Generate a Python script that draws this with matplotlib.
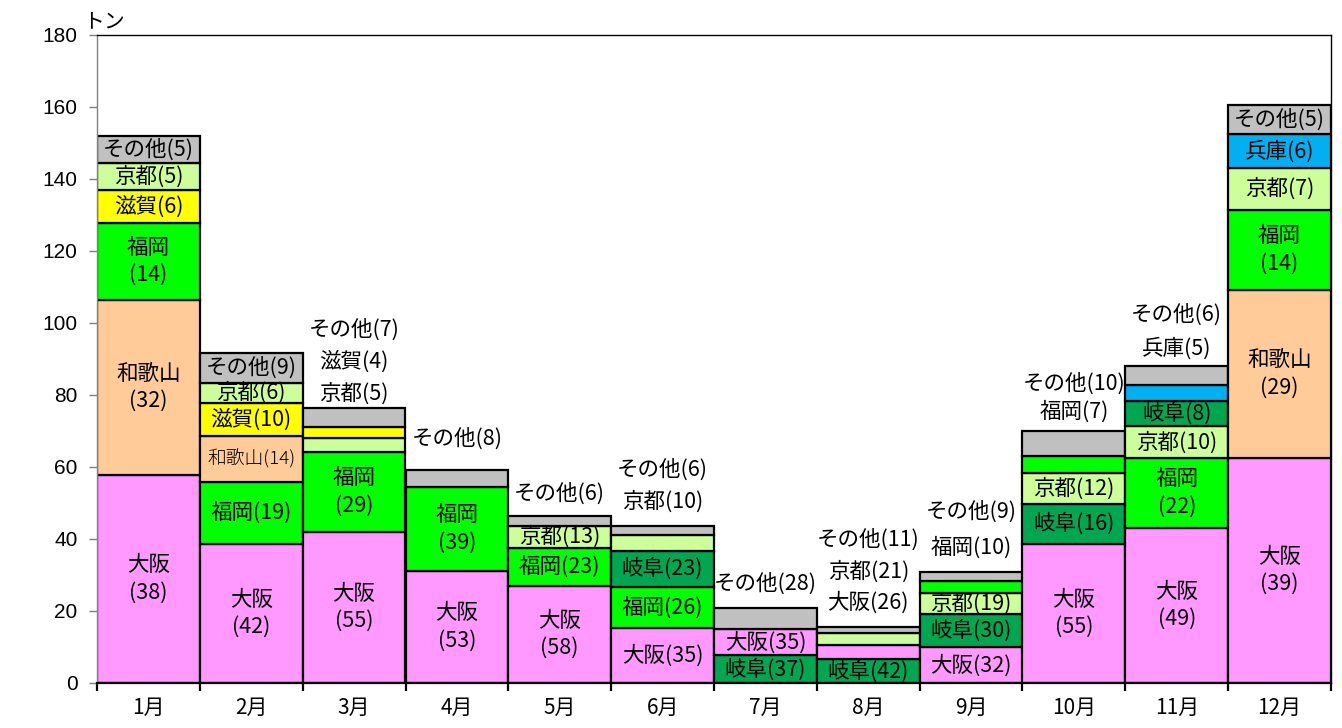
import matplotlib
matplotlib.use("Agg")
import matplotlib.pyplot as plt
import numpy as np

plt.rcParams['font.family'] = ['Noto Sans CJK JP', 'DejaVu Sans']

months = ['1月', '2月', '3月', '4月', '5月', '6月', '7月', '8月', '9月', '10月', '11月', '12月']

# tons per month by prefecture
osaka    = [57.8, 38.5, 42.0, 31.2, 27.0, 15.3, 7.3, 4.05, 9.9, 38.6, 43.1, 62.6]
wakayama = [48.6, 12.8, 0, 0, 0, 0, 0, 0, 0, 0, 0, 46.6]
fukuoka  = [21.4, 17.4, 22.2, 23.2, 10.6, 11.45, 0, 0, 3.1, 4.8, 19.4, 22.3]
shiga    = [9.1, 9.2, 3.1, 0, 0, 0, 0, 0, 0, 0, 0, 0]
kyoto    = [7.5, 5.5, 3.8, 0, 6.0, 4.25, 0, 3.28, 5.9, 8.4, 8.8, 11.6]
gifu     = [0, 0, 0, 0, 0, 10.0, 7.7, 6.55, 9.3, 11.2, 7.0, 0]
hyogo    = [0, 0, 0, 0, 0, 0, 0, 0, 0, 0, 4.4, 9.3]
sonota   = [7.5, 8.3, 5.4, 4.8, 2.8, 2.6, 5.9, 1.72, 2.7, 7.1, 5.3, 8.2]

series = {'大阪': osaka, '和歌山': wakayama, '福岡': fukuoka, '滋賀': shiga,
          '京都': kyoto, '岐阜': gifu, '兵庫': hyogo, 'その他': sonota}
colors = {'大阪': '#FF99FF', '和歌山': '#FFCC99', '福岡': '#00FF00', '滋賀': '#FFFF00',
          '京都': '#CCFF99', '岐阜': '#00A650', '兵庫': '#00B0F0', 'その他': '#C0C0C0'}

# stacking order (bottom -> top) and label placement per month
layout = [
    [('大阪', 'in2'), ('和歌山', 'in2'), ('福岡', 'in2'), ('滋賀', 'in'), ('京都', 'in'), ('その他', 'in')],
    [('大阪', 'in2'), ('福岡', 'in'), ('和歌山', 'insmall'), ('滋賀', 'in'), ('京都', 'in'), ('その他', 'in')],
    [('大阪', 'in2'), ('福岡', 'in2'), ('京都', 'out'), ('滋賀', 'out'), ('その他', 'out')],
    [('大阪', 'in2'), ('福岡', 'in2'), ('その他', 'out')],
    [('大阪', 'in2'), ('福岡', 'in'), ('京都', 'in'), ('その他', 'out')],
    [('大阪', 'in'), ('福岡', 'in'), ('岐阜', 'in'), ('京都', 'out'), ('その他', 'out')],
    [('岐阜', 'in'), ('大阪', 'in'), ('その他', 'out')],
    [('岐阜', 'in'), ('大阪', 'out'), ('京都', 'out'), ('その他', 'out')],
    [('大阪', 'in'), ('岐阜', 'in'), ('京都', 'in'), ('福岡', 'out'), ('その他', 'out')],
    [('大阪', 'in2'), ('岐阜', 'in'), ('京都', 'in'), ('福岡', 'out'), ('その他', 'out')],
    [('大阪', 'in2'), ('福岡', 'in2'), ('京都', 'in'), ('岐阜', 'in'), ('兵庫', 'out'), ('その他', 'out')],
    [('大阪', 'in2'), ('和歌山', 'in2'), ('福岡', 'in2'), ('京都', 'in'), ('兵庫', 'in'), ('その他', 'in')],
]
# pixel offsets of outside labels above bar top (first line, line step)
out_first = [0, 0, 14, 31, 22, 24, 24, 24, 24, 19, 18, 0]
out_step  = [32, 32, 32, 32, 32, 32, 32, 31.5, 36, 28, 34, 32]

W, H = 1342, 728
fig = plt.figure(figsize=(W / 100, H / 100), dpi=100)
ax = fig.add_axes([97 / W, (H - 683) / H, 1234 / W, 648 / H])

FS = 15.5
x = np.arange(len(months))
for i in range(len(months)):
    vals = [series[name][i] for name, _ in layout[i]]
    total = sum(vals)
    bottom = 0.0
    outs = []
    for name, mode in layout[i]:
        v = series[name][i]
        ax.bar(x[i], v, width=1.0, bottom=bottom, color=colors[name],
               edgecolor='black', linewidth=1.6, zorder=2)
        pct = int(round(v / total * 100))
        mid = bottom + v / 2
        if mode == 'in':
            ax.text(x[i], mid, f'{name}({pct})', ha='center', va='center', fontsize=FS, zorder=3)
        elif mode == 'insmall':
            ax.text(x[i], mid, f'{name}({pct})', ha='center', va='center', fontsize=13.5,
                    fontweight='light', zorder=3)
        elif mode == 'in2':
            ax.text(x[i], mid, f'{name}\n({pct})', ha='center', va='center', fontsize=FS,
                    linespacing=1.3, zorder=3)
        elif mode == 'out':
            outs.append(f'{name}({pct})')
        bottom += v
    for k, t in enumerate(outs):
        ax.annotate(t, xy=(x[i], bottom),
                    xytext=(0, (out_first[i] + out_step[i] * k) * 0.72),
                    textcoords='offset points', ha='center', va='center', fontsize=FS)

ax.set_xlim(-0.5, len(months) - 0.5)
ax.set_ylim(0, 180)
ax.set_yticks(np.arange(0, 181, 20))
ax.set_yticklabels([str(v) for v in range(0, 181, 20)], fontfamily='Liberation Sans', fontsize=15)
ax.tick_params(axis='y', direction='out', length=6, width=1, color='#808080', pad=8)

ax.set_xticks(np.arange(-0.5, len(months), 1.0))
ax.set_xticklabels([])
ax.set_xticks(x, minor=True)
ax.set_xticklabels(months, minor=True, fontsize=15)
ax.tick_params(axis='x', which='major', direction='out', length=6, width=1.6, color='black')
ax.tick_params(axis='x', which='minor', length=0, pad=10)

ax.spines['left'].set_color('#808080')
ax.spines['left'].set_linewidth(1)
ax.spines['bottom'].set_color('black')
ax.spines['bottom'].set_linewidth(1.6)
ax.spines['top'].set_linewidth(1)
ax.spines['right'].set_linewidth(1)

fig.text(83 / W, 1 - 21 / H, 'トン', ha='left', va='center', fontsize=15)

fig.savefig('out.png', dpi=100)
